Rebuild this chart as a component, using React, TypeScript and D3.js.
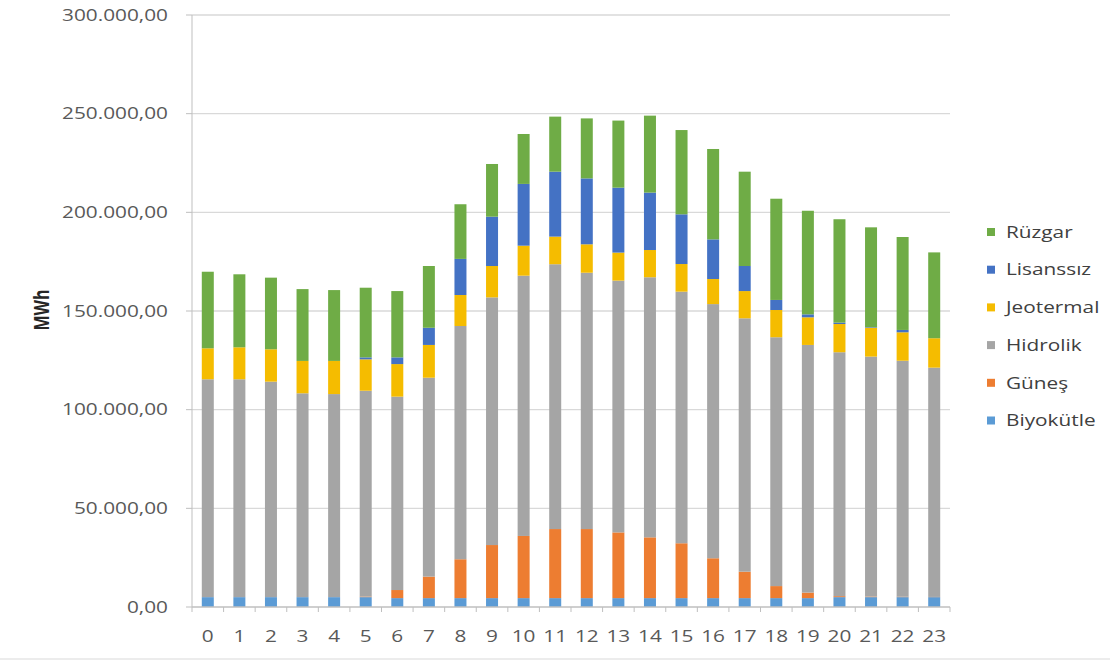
import React from "react";
import * as d3 from "d3";

const hours = ["0","1","2","3","4","5","6","7","8","9","10","11","12","13","14","15","16","17","18","19","20","21","22","23"];
const biyokutle = [5000,5000,5000,5000,5000,5000,4500,4500,4500,4500,4500,4500,4500,4500,4500,4500,4500,4500,4500,4500,5000,5000,5000,5000];
const gunes = [0,0,0,0,0,300,4100,10900,19700,26900,31500,35000,35000,33300,30800,27800,20200,13400,6100,2800,500,300,200,100];
const hidrolik = [110400,110400,109200,103300,102900,104300,98000,100800,118200,125500,131900,134200,129900,127600,131800,127500,128800,128400,126100,125500,123600,121600,119600,116200];
const jeotermal = [15700,16200,16400,16400,16800,15900,16500,16600,15700,15900,15200,14000,14400,14200,13800,14000,12700,13800,13800,14000,14300,14600,14400,14900];
const lisanssiz = [0,0,0,0,0,1000,3400,8700,18300,25000,31300,32900,33400,32900,29100,25200,20100,12700,5100,1500,700,300,1200,0];
const ruzgar = [38800,37000,36300,36400,35900,35300,33600,31300,27700,26700,25300,27900,30400,34000,39000,42700,45800,47800,51300,52500,52400,50600,47100,43500];
const yTicks = [0,50000,100000,150000,200000,250000,300000];

const seriesNames = ["Biyokütle","Güneş","Hidrolik","Jeotermal","Lisanssız","Rüzgar"];
const seriesValues = [biyokutle, gunes, hidrolik, jeotermal, lisanssiz, ruzgar];
const colors = ["#5B9BD5","#ED7D31","#A5A5A5","#F5BC00","#4472C4","#6FAC46"];

const fmt = (v: number) => {
  const s = d3.format(",.2f")(v);
  return s.replace(/,/g, "#").replace(/\./g, ",").replace(/#/g, ".");
};

export default function App() {
  const left = 192, right = 950, top = 15, bottom = 607;
  const x = d3.scaleBand<string>().domain(hours).range([left, right]).paddingInner(0.62).paddingOuter(0.31);
  const xb = d3.scaleBand<string>().domain(hours).range([left, right]);
  const y = d3.scaleLinear().domain([0, 300000]).range([bottom, top]);

  const rows = hours.map((h, i) => {
    const r: any = { hour: h };
    seriesNames.forEach((n, k) => (r[n] = seriesValues[k][i]));
    return r;
  });
  const stacked = d3.stack<any>().keys(seriesNames)(rows);

  const font = "'Open Sans', sans-serif";
  const sx = 1.3;

  return (
    <svg width={1110} height={664} style={{ position: "absolute", left: 0, top: 0, background: "#fff" }}>
      <rect x={0} y={0} width={1110} height={664} fill="#ffffff" />
      {yTicks.map((t) => (
        <g key={t}>
          {t > 0 && <line x1={left} x2={right} y1={y(t)} y2={y(t)} stroke="#d9d9d9" strokeWidth={1.3} />}
          <line x1={left - 6} x2={left} y1={y(t)} y2={y(t)} stroke="#bfbfbf" strokeWidth={1} />
          <text transform={`translate(${168},${y(t)}) scale(${sx},1)`} textAnchor="end" dy="0.36em"
            fontFamily={font} fontSize={16} fill="#595959">{fmt(t)}</text>
        </g>
      ))}
      {stacked.map((s, k) => (
        <g key={s.key} fill={colors[k]}>
          {s.map((d, i) => (
            <rect key={i} x={x(hours[i])} width={x.bandwidth()} y={y(d[1])} height={Math.max(0, y(d[0]) - y(d[1]))} />
          ))}
        </g>
      ))}
      <line x1={left} x2={left} y1={top} y2={bottom} stroke="#bfbfbf" strokeWidth={1} />
      <line x1={left} x2={right} y1={bottom} y2={bottom} stroke="#bfbfbf" strokeWidth={1.3} />
      {hours.map((h) => (
        <line key={"t" + h} x1={xb(h)} x2={xb(h)} y1={bottom} y2={bottom + 5} stroke="#bfbfbf" />
      ))}
      <line x1={right} x2={right} y1={bottom} y2={bottom + 5} stroke="#bfbfbf" />
      {hours.map((h) => (
        <text key={"l" + h} transform={`translate(${(xb(h) as number) + xb.bandwidth() / 2},${636}) scale(${sx},1)`}
          textAnchor="middle" dy="0.36em" fontFamily={font} fontSize={16} fill="#595959">{h}</text>
      ))}
      <text transform={`translate(42,310) scale(${sx},1) rotate(-90)`} textAnchor="middle" dy="0.36em"
        fontFamily={font} fontSize={16} fontWeight="bold" fill="#262626">MWh</text>
      {seriesNames.slice().reverse().map((n, i) => {
        const k = seriesNames.length - 1 - i;
        const cy = 232 + i * 37.7;
        return (
          <g key={n}>
            <rect x={987} y={cy - 4} width={8} height={8} fill={colors[k]} />
            <text transform={`translate(1006,${cy}) scale(${sx},1)`} dy="0.36em" fontFamily={font} fontSize={16} fill="#404040">{n}</text>
          </g>
        );
      })}
      <line x1={0} x2={1110} y1={659} y2={659} stroke="#d9d9d9" strokeWidth={1} />
    </svg>
  );
}
